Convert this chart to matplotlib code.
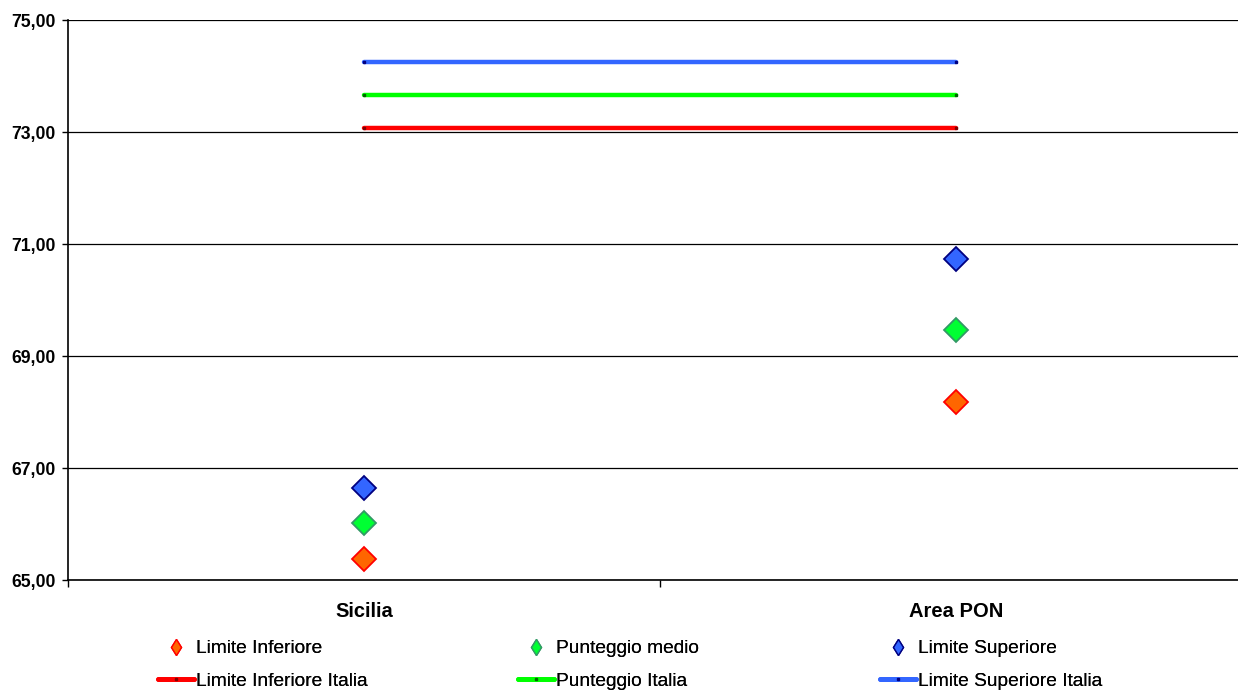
import matplotlib.pyplot as plt
from matplotlib.lines import Line2D
from matplotlib.ticker import FuncFormatter

plt.rcParams['font.family'] = ['Liberation Sans', 'DejaVu Sans']

categories = ['Sicilia', 'Area PON']
limite_inferiore = [65.38, 68.17]
punteggio_medio = [66.02, 69.46]
limite_superiore = [66.64, 70.73]
limite_inferiore_italia = [73.07, 73.07]
punteggio_italia = [73.66, 73.66]
limite_superiore_italia = [74.25, 74.25]

fig = plt.figure(figsize=(12.38, 6.91), dpi=100)
ax = fig.add_axes([68 / 1238, 1 - 580 / 691, 1 - 68 / 1238, 560 / 691])

x = list(range(len(categories)))

# national reference lines
line_styles = [
    (limite_inferiore_italia, '#FF0000', '#800000', 'Limite Inferiore Italia'),
    (punteggio_italia, '#00FF00', '#006600', 'Punteggio Italia'),
    (limite_superiore_italia, '#3366FF', '#000080', 'Limite Superiore Italia'),
]
for vals, c, mc, lab in line_styles:
    ax.plot(x, vals, color=c, lw=3.2, solid_capstyle='round',
            marker='s', ms=1.5, mfc=mc, mec=mc, zorder=3)

# regional values
marker_styles = [
    (limite_inferiore, '#FF6600', '#FF0000', 'Limite Inferiore'),
    (punteggio_medio, '#00FF33', '#339966', 'Punteggio medio'),
    (limite_superiore, '#3366FF', '#000080', 'Limite Superiore'),
]
for vals, fc, ec, lab in marker_styles:
    ax.plot(x, vals, ls='none', marker='D', ms=12.5, mfc=fc, mec=ec, mew=1.3, zorder=4)

ax.set_yticks([65, 67, 69, 71, 73, 75])
ax.set_ylim(65, 75)
ax.yaxis.set_major_formatter(FuncFormatter(lambda v, p: f'{v:.2f}'.replace('.', ',')))
ax.set_xticks([-0.5, 0.5, 1.5])
ax.set_xticklabels([])
ax.set_xticks(x, minor=True)
ax.set_xticklabels(categories, minor=True, fontweight='bold', fontsize=14.5)
ax.set_xlim(-0.5, 1.476)
ax.tick_params(axis='x', which='minor', length=0, pad=15.5)
ax.tick_params(axis='x', which='major', length=5, width=1.0)
ax.tick_params(axis='y', length=4, width=1.0, labelsize=12.7, pad=5)
for lab in ax.get_yticklabels():
    lab.set_fontweight('bold')

ax.grid(axis='y', color='black', lw=0.9)
ax.set_axisbelow(True)
for s in ['top', 'right']:
    ax.spines[s].set_visible(False)
ax.spines['left'].set_linewidth(1.2)
ax.spines['bottom'].set_linewidth(1.2)

# legend: three columns placed at fixed positions
col_x = [158, 518, 880]
for i in range(3):
    vals, fc, ec, mlab = marker_styles[i]
    lvals, lc, lmc, llab = line_styles[i]
    h1 = Line2D([], [], ls='none', marker='d', ms=8, mfc=fc, mec=ec, mew=1.0)
    h2 = Line2D([], [], color=lc, lw=3.5, solid_capstyle='round',
                marker='s', ms=1.5, mfc=lmc, mec=lmc)
    leg = fig.legend([h1, h2], [mlab, llab], loc='center left',
                     bbox_to_anchor=(col_x[i] / 1238, 1 - 665 / 691),
                     frameon=False, fontsize=13.8, handlelength=1.9, handletextpad=0.1,
                     labelspacing=0.8, borderpad=0, borderaxespad=0)
    fig.add_artist(leg)

plt.savefig('out.png', dpi=100)
